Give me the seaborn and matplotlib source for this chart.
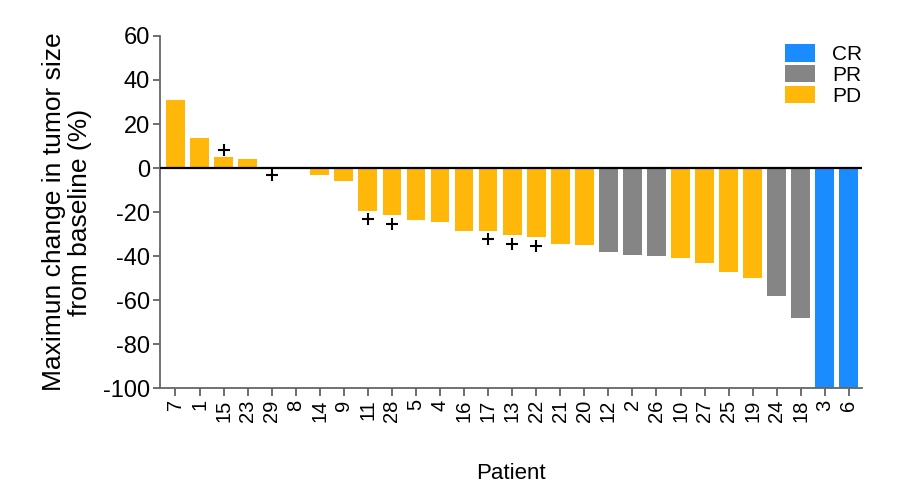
import seaborn as sns
import matplotlib.pyplot as plt
import pandas as pd

# --------------------
# Data
# --------------------
patients = ["7", "1", "15", "23", "29", "8", "14", "9", "11", "28", "5", "4", "16", "17", "13",
            "22", "21", "20", "12", "2", "26", "10", "27", "25", "19", "24", "18", "3", "6"]
change = [31, 13.5, 5, 4, 0.5, 0, -3, -6, -19.5, -21.5, -23.5, -24.5, -28.5, -28.5, -30.5,
          -31.5, -34.5, -35, -38, -39.5, -40, -41, -43, -47, -50, -58, -68, -100, -100]
response = ["PD", "PD", "PD", "PD", "PD", "PD", "PD", "PD", "PD", "PD", "PD", "PD", "PD", "PD", "PD",
            "PD", "PD", "PD", "PR", "PR", "PR", "PD", "PD", "PD", "PD", "PR", "PR", "CR", "CR"]
marked = ["15", "29", "11", "28", "17", "13", "22"]

df = pd.DataFrame({"Patient": patients, "Change": change, "Response": response})

palette = {"CR": "#1a8cff", "PR": "#858585", "PD": "#ffb80a"}

plt.rcParams["font.family"] = ["Liberation Sans", "DejaVu Sans"]
plt.rcParams["axes.unicode_minus"] = False

fig = plt.figure(figsize=(8.98, 4.99), dpi=100)
ax = fig.add_axes([0.178, 0.222, 0.782, 0.706])

sns.barplot(data=df, x="Patient", y="Change", hue="Response", order=patients,
            hue_order=["CR", "PR", "PD"], palette=palette, dodge=False,
            width=0.78, saturation=1, ax=ax)

# + markers just beyond the bar end
for i, p in enumerate(patients):
    if p in marked:
        v = change[i]
        y = v + 3 if v > 1 else v - 3.8
        ax.scatter(i, y, marker="+", s=80, color="black", linewidths=1.5, zorder=5)

ax.axhline(0, color="black", lw=1.6, zorder=4)

ax.set_ylim(-100, 60)
ax.set_yticks(range(-100, 61, 20))
ax.set_xlim(-0.65, len(patients) - 0.45)
ax.tick_params(axis="y", labelsize=17, length=5, width=1.2, color="#555555", pad=2)
ax.tick_params(axis="x", labelsize=14.5, length=6, width=1.2, color="#555555", rotation=90, pad=2)

for s in ["top", "right"]:
    ax.spines[s].set_visible(False)
for s in ["left", "bottom"]:
    ax.spines[s].set_color("#666666")
    ax.spines[s].set_linewidth(1.3)

ax.set_xlabel("Patient", fontsize=16, labelpad=30)
ax.set_ylabel("Maximun change in tumor size\nfrom baseline (%)", fontsize=19, labelpad=8,
              linespacing=1.1)

ax.legend(loc="upper right", frameon=False, fontsize=15, handlelength=1.45, handleheight=0.9,
          labelspacing=0.05, bbox_to_anchor=(1.012, 1.0), borderaxespad=0.0, handletextpad=0.8)

fig.savefig("out.png", dpi=100)
